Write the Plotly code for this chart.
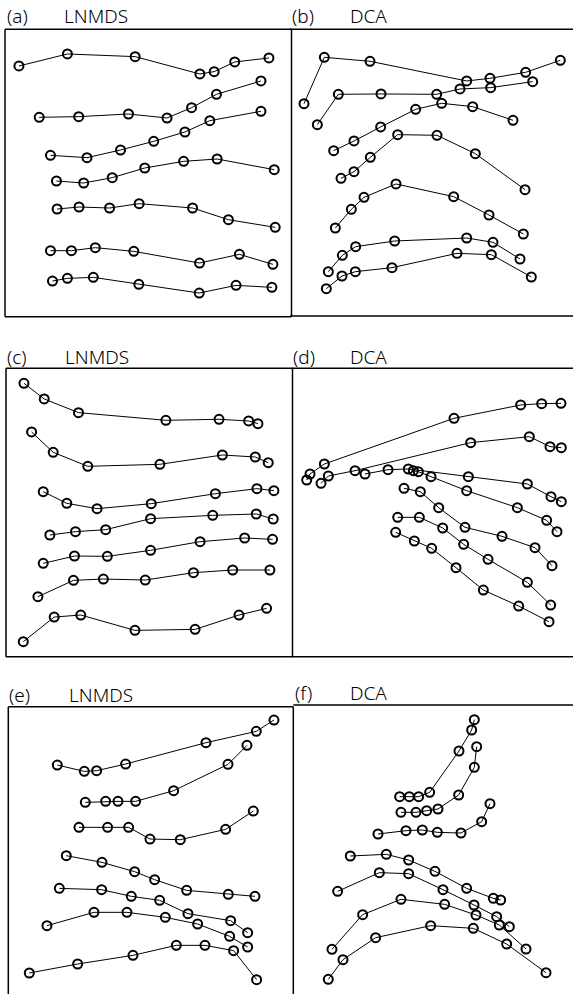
import plotly.graph_objects as go

# Panel (a) LNMDS - seven transects, scores
A_X = [[57, 203, 407, 602, 645, 707, 810],
       [118, 237, 387, 503, 577, 652, 786],
       [152, 262, 363, 463, 557, 632, 786],
       [170, 252, 338, 436, 553, 654, 826],
       [172, 238, 330, 419, 580, 688, 829],
       [152, 215, 287, 403, 601, 721, 822],
       [158, 203, 281, 418, 600, 711, 819]]
A_Y = [[198, 162, 170, 222, 215, 186, 174],
       [352, 350, 342, 354, 323, 283, 243],
       [466, 473, 450, 424, 396, 362, 334],
       [543, 549, 533, 504, 484, 477, 509],
       [627, 621, 624, 611, 624, 659, 682],
       [752, 752, 743, 754, 789, 763, 793],
       [843, 835, 832, 853, 879, 856, 862]]

# Panel (b) DCA
B_X = [[57, 118, 255, 545, 615, 722, 826],
       [97, 160, 288, 455, 525, 617, 743],
       [146, 207, 287, 392, 470, 563, 684],
       [168, 207, 256, 338, 456, 571, 720],
       [151, 199, 237, 333, 506, 612, 715],
       [130, 172, 212, 329, 545, 624, 705],
       [124, 171, 211, 321, 516, 619, 739]]
B_Y = [[311, 172, 184, 243, 235, 217, 181],
       [374, 283, 282, 283, 267, 263, 245],
       [452, 423, 381, 328, 310, 320, 361],
       [535, 515, 472, 404, 406, 461, 569],
       [684, 628, 592, 552, 590, 645, 702],
       [815, 766, 740, 723, 714, 727, 777],
       [866, 828, 815, 803, 760, 764, 831]]

# Panel (c) LNMDS
C_X = [[72, 133, 236, 499, 659, 748, 776],
       [95, 160, 264, 481, 669, 768, 807],
       [130, 201, 292, 455, 648, 773, 824],
       [150, 227, 318, 453, 640, 771, 822],
       [130, 224, 323, 453, 602, 736, 820],
       [114, 221, 311, 437, 582, 700, 812],
       [70, 163, 243, 406, 587, 719, 802]]
C_Y = [[145, 192, 233, 256, 253, 258, 266],
       [291, 352, 394, 388, 360, 366, 383],
       [470, 505, 521, 506, 476, 461, 467],
       [600, 590, 584, 551, 541, 537, 552],
       [685, 663, 664, 646, 620, 609, 613],
       [785, 736, 732, 735, 713, 705, 705],
       [920, 846, 840, 886, 883, 840, 820]]

# Panel (d) DCA
D_X = [[65, 75, 118, 507, 707, 770, 828],
       [108, 130, 210, 557, 733, 795, 829],
       [240, 309, 370, 550, 727, 798, 829],
       [385, 400, 438, 545, 697, 785, 816],
       [357, 406, 461, 540, 651, 750, 801],
       [338, 403, 473, 536, 609, 727, 797],
       [332, 388, 440, 513, 595, 701, 792]]
D_Y = [[435, 417, 387, 250, 210, 206, 205],
       [445, 423, 407, 323, 305, 335, 338],
       [417, 404, 402, 425, 447, 485, 500],
       [407, 410, 425, 467, 518, 556, 590],
       [460, 470, 518, 577, 604, 638, 692],
       [547, 547, 579, 628, 673, 742, 810],
       [592, 618, 640, 698, 765, 813, 860]]

# Panel (e) LNMDS
E_X = [[172, 253, 290, 377, 618, 769, 822],
       [256, 317, 354, 407, 521, 684, 741],
       [237, 323, 386, 450, 541, 677, 760],
       [199, 306, 404, 464, 560, 685, 765],
       [178, 305, 394, 479, 564, 692, 743],
       [141, 282, 381, 496, 593, 689, 743],
       [88, 233, 399, 529, 615, 701, 770]]
E_Y = [[285, 304, 302, 282, 218, 184, 150],
       [397, 394, 394, 394, 362, 283, 226],
       [472, 472, 472, 507, 509, 478, 423],
       [557, 577, 605, 629, 661, 673, 679],
       [655, 659, 679, 691, 731, 752, 788],
       [767, 727, 727, 742, 762, 799, 831],
       [909, 882, 856, 826, 826, 842, 929]]

# Panel (f) DCA
F_X = [[344, 373, 401, 434, 522, 560, 568],
       [348, 393, 425, 459, 521, 568, 575],
       [279, 363, 412, 457, 528, 590, 615],
       [196, 304, 371, 450, 545, 625, 647],
       [158, 283, 371, 474, 567, 635, 673],
       [141, 233, 348, 479, 573, 643, 723],
       [130, 174, 272, 437, 565, 665, 783]]
F_Y = [[380, 380, 380, 367, 243, 180, 149],
       [427, 427, 422, 417, 375, 292, 230],
       [492, 482, 480, 487, 489, 455, 401],
       [558, 553, 570, 604, 655, 685, 690],
       [664, 608, 611, 659, 705, 740, 770],
       [838, 734, 688, 703, 735, 765, 837],
       [928, 869, 803, 767, 775, 822, 908]]

PANEL_LETTERS = ["(a)", "(b)", "(c)", "(d)", "(e)", "(f)"]
PANEL_METHODS = ["LNMDS", "DCA", "LNMDS", "DCA", "LNMDS", "DCA"]

W, H = 573, 994

def px(x):
    return x / W

def py(y):
    return 1 - y / H

# per panel: data, x-range, y-range(reversed), pixel box (left, right, top, bottom), frame sides
panels = [
    (A_X, A_Y, [15, 878], [950, 88], (5, 291.5, 29.3, 316.7), "ltrb"),
    (B_X, B_Y, [15, 864], [948, 88], (290, 573, 29.3, 316), "tb"),
    (C_X, C_Y, [18, 880], [965, 100], (6, 292.5, 368.3, 656.7), "ltrb"),
    (D_X, D_Y, [20, 864], [965, 100], (291.7, 573, 368.3, 656.7), "tb"),
    (E_X, E_Y, [25, 880], [972, 110], (8.3, 293.3, 706.7, 994), "ltr"),
    (F_X, F_Y, [25, 864], [972, 105], (293.3, 573, 705, 994), "t"),
]

title_pos = [(5, 62, 16), (290, 348, 16), (5, 63, 356.7), (291, 348, 356.7),
             (7, 67, 695), (293, 348, 693.3)]

fig = go.Figure()
shapes = []
annotations = []

for i, (XS, YS, xr, yr, box, sides) in enumerate(panels):
    n = i + 1
    xa = "x" if n == 1 else f"x{n}"
    ya = "y" if n == 1 else f"y{n}"
    l, r, t, b = box
    for xs, ys in zip(XS, YS):
        fig.add_trace(go.Scatter(
            x=xs, y=ys, mode="lines+markers", xaxis=xa, yaxis=ya,
            line=dict(color="black", width=1),
            marker=dict(symbol="circle-open", size=9, color="black",
                        line=dict(width=2, color="black")),
            showlegend=False, hoverinfo="skip", cliponaxis=False))
    ax_key = "xaxis" if n == 1 else f"xaxis{n}"
    ay_key = "yaxis" if n == 1 else f"yaxis{n}"
    fig.update_layout(**{
        ax_key: dict(domain=[px(l), px(r)], range=xr, visible=False,
                     anchor=ya, fixedrange=True),
        ay_key: dict(domain=[py(b), py(t)], range=yr, visible=False,
                     anchor=xa, fixedrange=True),
    })
    lw = 1.5
    if "l" in sides:
        shapes.append(dict(type="line", xref="paper", yref="paper",
                           x0=px(l), x1=px(l), y0=py(t), y1=py(b),
                           line=dict(color="black", width=lw)))
    if "r" in sides:
        shapes.append(dict(type="line", xref="paper", yref="paper",
                           x0=px(r), x1=px(r), y0=py(t), y1=py(b),
                           line=dict(color="black", width=lw)))
    if "t" in sides:
        shapes.append(dict(type="line", xref="paper", yref="paper",
                           x0=px(l), x1=px(r), y0=py(t), y1=py(t),
                           line=dict(color="black", width=lw)))
    if "b" in sides:
        shapes.append(dict(type="line", xref="paper", yref="paper",
                           x0=px(l), x1=px(r), y0=py(b), y1=py(b),
                           line=dict(color="black", width=lw)))
    lx, mx, cy = title_pos[i]
    font = dict(family="Noto Sans", size=19, color="black", weight=300)
    annotations.append(dict(text=PANEL_LETTERS[i], xref="paper", yref="paper",
                            x=px(lx), y=py(cy), xanchor="left", yanchor="middle",
                            showarrow=False, font=font))
    annotations.append(dict(text=PANEL_METHODS[i], xref="paper", yref="paper",
                            x=px(mx), y=py(cy), xanchor="left", yanchor="middle",
                            showarrow=False, font=font))

fig.update_layout(width=W, height=H, margin=dict(l=0, r=0, t=0, b=0),
                  paper_bgcolor="white", plot_bgcolor="white",
                  shapes=shapes, annotations=annotations)

fig.write_html("out.html", config={"displayModeBar": False},
               post_script="document.body.style.margin='0px';"
                           "document.body.style.padding='0px';"
                           "document.body.style.overflow='hidden';")
